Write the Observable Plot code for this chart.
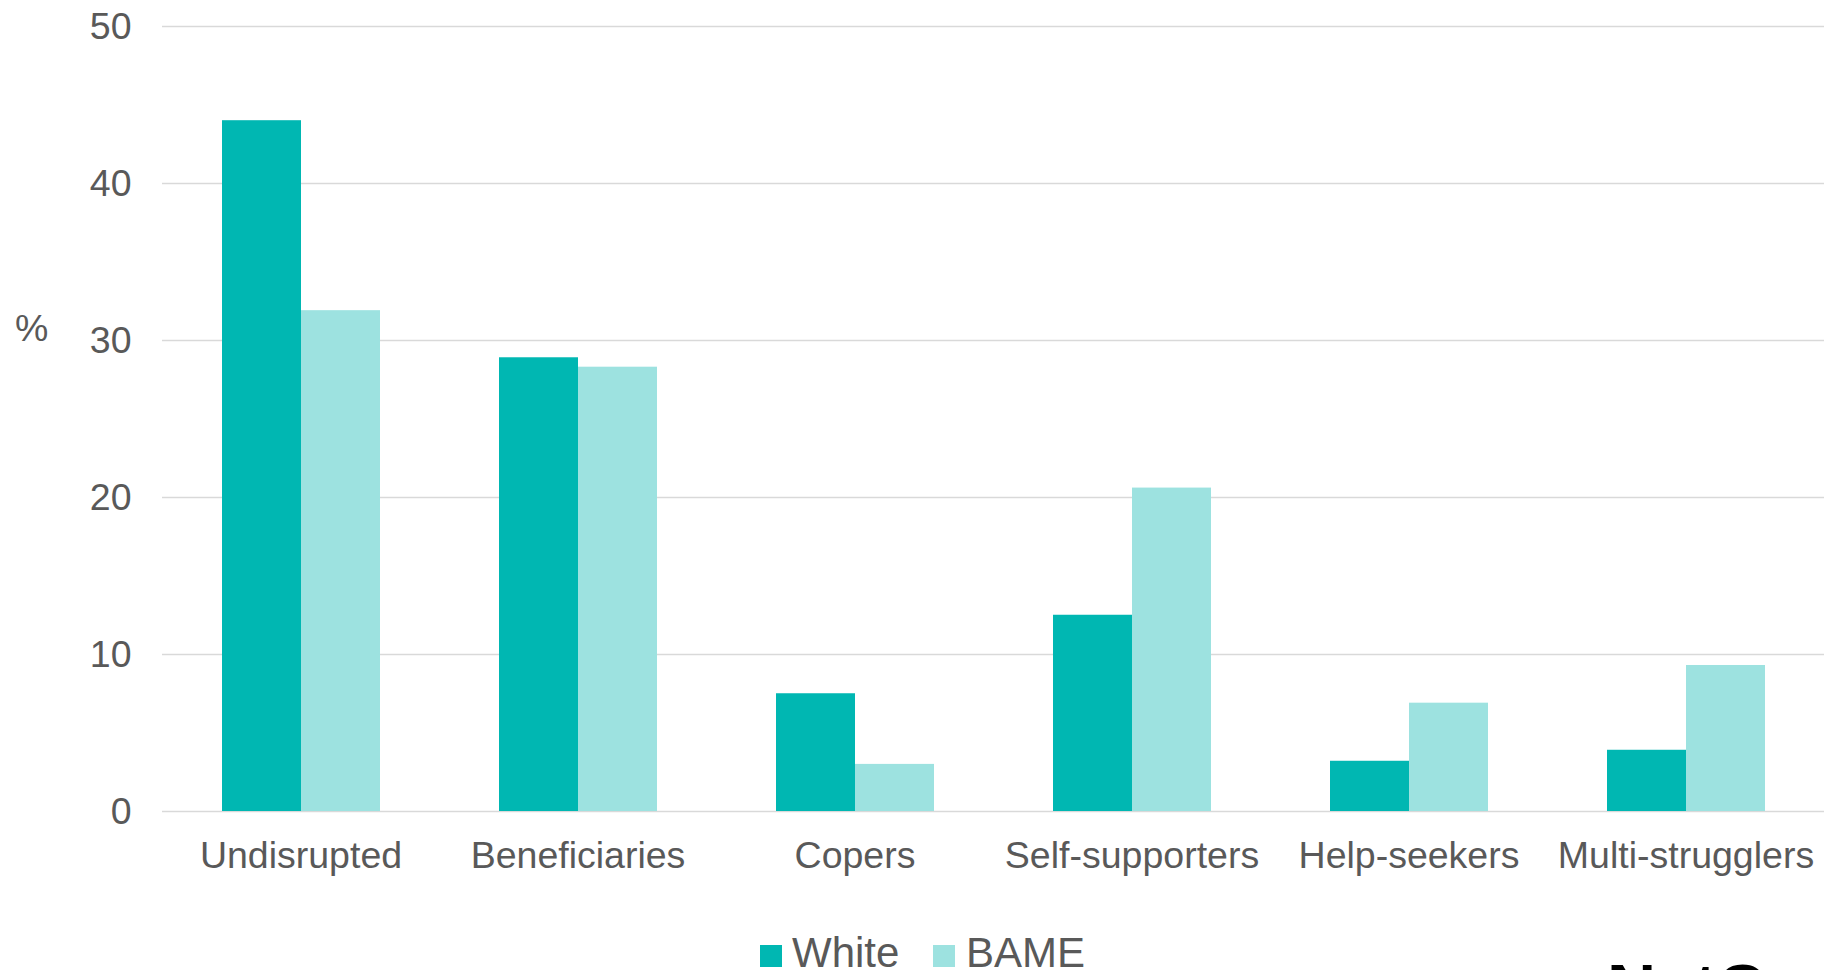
<!DOCTYPE html>
<html>
<head>
<meta charset="utf-8">
<script src="https://cdn.jsdelivr.net/npm/d3@7"></script>
<script src="https://cdn.jsdelivr.net/npm/@observablehq/plot@0.6"></script>
<style>
  html, body { margin: 0; padding: 0; background: #fff; overflow: hidden; width: 1835px; height: 970px; }
  #wrap { position: relative; width: 1835px; height: 970px; font-family: "Liberation Sans", Arial, sans-serif; color: #595959; }
  #chart { position: absolute; left: 0; top: 0; }
  .abs { position: absolute; white-space: nowrap; }
  .sw { position: absolute; width: 22px; height: 22px; }
</style>
</head>
<body>
<div id="wrap">
  <div id="chart"></div>
  <div class="abs" id="ylab" style="left:15px; top:310px; font-size:37.5px; line-height:37.5px;">%</div>
  <div id="legend"></div>
  <div class="abs" style="left:1607px; top:954px; font-size:68px; line-height:68px; font-weight:bold; color:#000;">NatCen</div>
</div>
<script>
const categories = ["Undisrupted", "Beneficiaries", "Copers", "Self-supporters", "Help-seekers", "Multi-strugglers"];
const series = ["White", "BAME"];
const whiteValues = [44.0, 28.9, 7.5, 12.5, 3.2, 3.9];
const bameValues = [31.9, 28.3, 3.0, 20.6, 6.9, 9.3];
const seriesColors = ["#00B7B2", "#9DE2E0"];
const yTicks = [0, 10, 20, 30, 40, 50];

const data = [];
categories.forEach((c, i) => {
  data.push({category: c, series: "White", value: whiteValues[i]});
  data.push({category: c, series: "BAME", value: bameValues[i]});
});

const chart = Plot.plot({
  width: 1835,
  height: 900,
  marginLeft: 159,
  marginRight: 9,
  marginTop: 26,
  marginBottom: 89,
  style: {fontFamily: "'Liberation Sans', Arial, sans-serif", fontSize: "37.5px", color: "#595959", background: "#fff", overflow: "visible"},
  fx: {domain: categories, padding: 0, label: null, tickSize: 0, tickPadding: 30},
  x: {domain: series, paddingInner: 0, paddingOuter: 0.75, axis: null},
  y: {domain: [0, 50], ticks: yTicks, label: null, tickSize: 0, tickPadding: 31},
  color: {domain: series, range: seriesColors},
  marks: [
    Plot.ruleY(yTicks, {stroke: "#d9d9d9", strokeWidth: 1.6}),
    Plot.barY(data, {fx: "category", x: "series", y: "value", fill: "series"})
  ]
});
document.getElementById("chart").appendChild(chart);

// legend
const legend = document.getElementById("legend");
const legendPos = [{sq: 760, tx: 793}, {sq: 933, tx: 967}];
series.forEach((s, i) => {
  const sw = document.createElement("div");
  sw.className = "sw";
  sw.style.left = legendPos[i].sq + "px";
  sw.style.top = "945px";
  sw.style.background = seriesColors[i];
  legend.appendChild(sw);
  const t = document.createElement("div");
  t.className = "abs";
  t.style.left = (legendPos[i].tx - 1) + "px";
  t.style.top = "932px";
  t.style.fontSize = "42px";
  t.style.lineHeight = "42px";
  t.textContent = s;
  legend.appendChild(t);
});
</script>
</body>
</html>
